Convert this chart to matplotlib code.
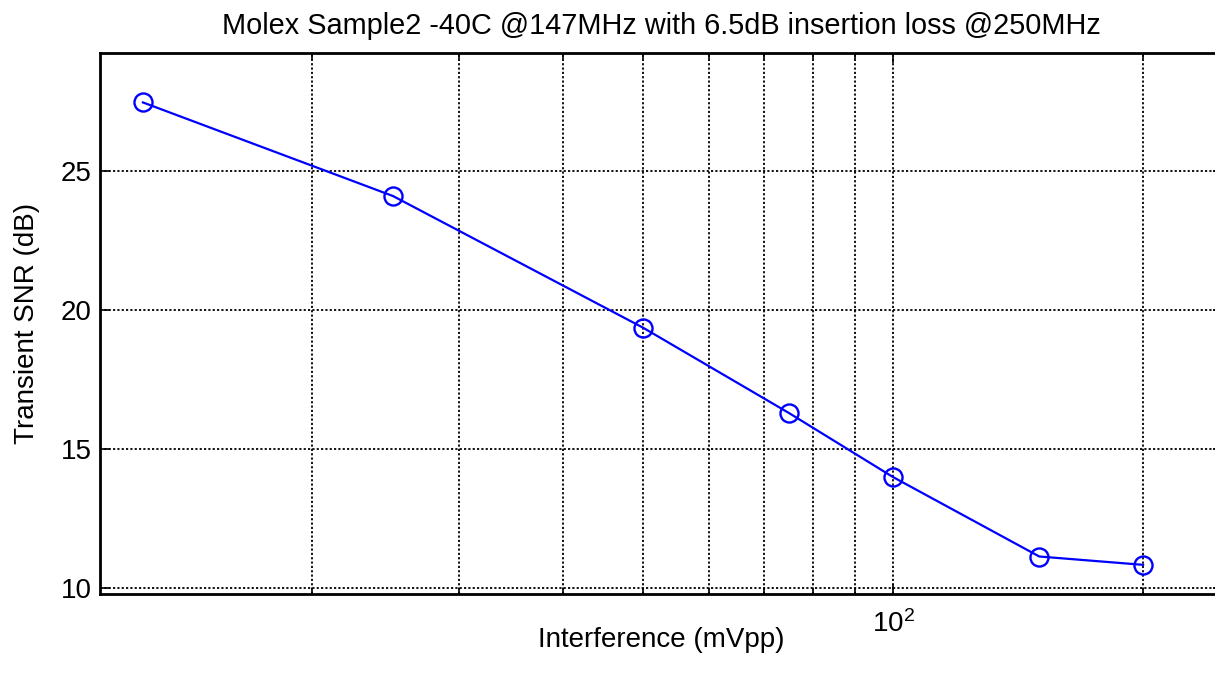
import matplotlib
matplotlib.use("Agg")
import matplotlib.pyplot as plt
import matplotlib.ticker as ticker

plt.rcParams['font.family'] = ['Liberation Sans', 'DejaVu Sans']
plt.rcParams['mathtext.fontset'] = 'custom'
plt.rcParams['mathtext.rm'] = 'Liberation Sans'

# Interference amplitude vs transient SNR
interference = [12.5, 25, 50, 75, 100, 150, 200]
snr = [27.47, 24.1, 19.36, 16.28, 13.98, 11.12, 10.82]

fig = plt.figure(figsize=(12.15, 6.85), dpi=100)
ax = fig.add_axes([100/1215, 91/685, 1123/1215, 541/685])

ax.plot(interference, snr, color='blue', linewidth=1.6, marker='o', markersize=13,
        markerfacecolor='none', markeredgecolor='blue', markeredgewidth=1.7, zorder=3)

ax.set_xscale('log')
ax.set_xlim(11.097, 249.6)
ax.set_ylim(9.77, 29.25)

ax.xaxis.set_major_locator(ticker.LogLocator(base=10))
ax.xaxis.set_minor_locator(ticker.LogLocator(base=10, subs=range(2, 10)))
ax.xaxis.set_minor_formatter(ticker.NullFormatter())
ax.yaxis.set_major_locator(ticker.FixedLocator([10, 15, 20, 25]))

ax.grid(True, which='major', color='black', linestyle=(0, (1.2, 1.2)), linewidth=1.3)
ax.grid(True, which='minor', axis='x', color='black', linestyle=(0, (1.2, 1.2)), linewidth=1.3)

ax.tick_params(which='both', direction='in', labelsize=20, width=1.2, color='black',
               top=True, right=True)
ax.tick_params(which='major', length=7)
ax.tick_params(which='minor', length=4)
ax.tick_params(axis='x', pad=12)
ax.tick_params(axis='y', pad=6)
for s in ax.spines.values():
    s.set_linewidth(2)

ax.set_title('Molex Sample2 -40C @147MHz with 6.5dB insertion loss @250MHz', fontsize=20.8, pad=14)
ax.set_xlabel('Interference (mVpp)', fontsize=20)
ax.xaxis.set_label_coords(0.5, -0.061)
ax.set_ylabel('Transient SNR (dB)', fontsize=20, labelpad=15)

plt.savefig('out.png', dpi=100)
